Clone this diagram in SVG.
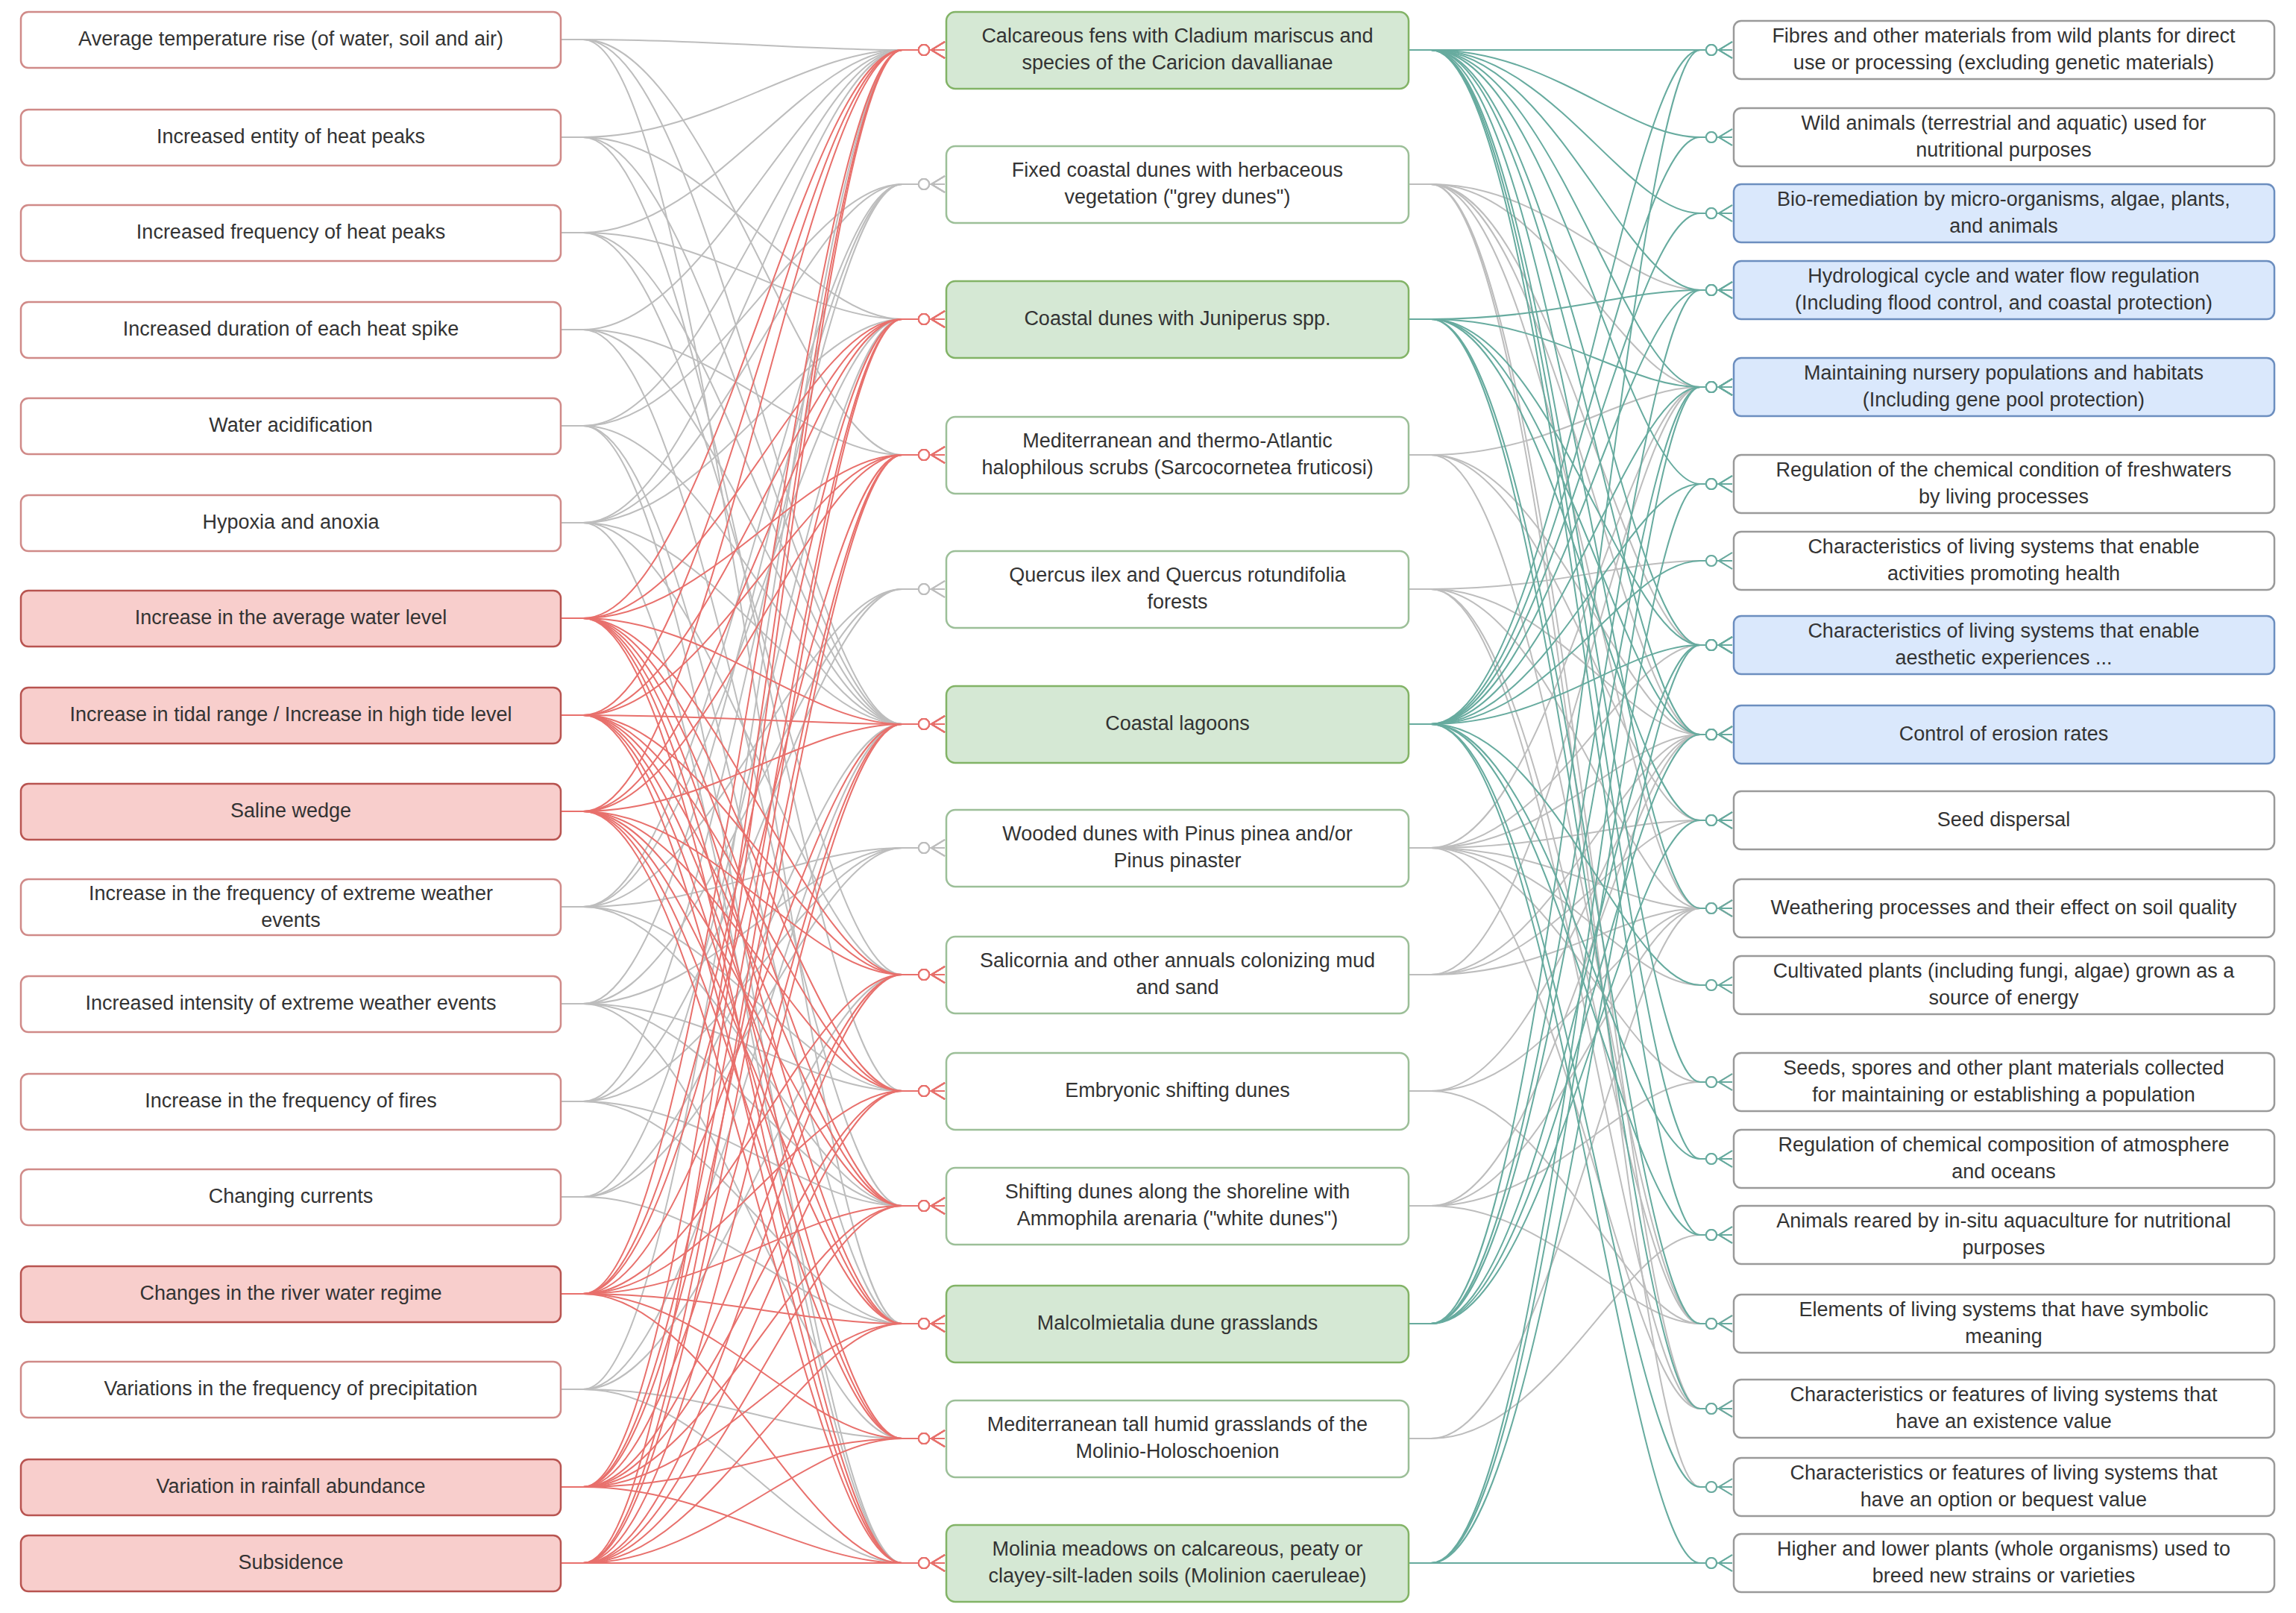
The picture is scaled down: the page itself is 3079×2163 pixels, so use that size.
<svg xmlns="http://www.w3.org/2000/svg" width="3079" height="2163" viewBox="0 0 3079 2163">
<style>
text{font-family:"Liberation Sans",Arial,sans-serif;font-size:27px;fill:#333;text-anchor:middle;dominant-baseline:middle}
.b{stroke-width:2.5}
.lw{fill:#fff;stroke:#d08a88}.lr{fill:#f8cecc;stroke:#b85450}
.mw{fill:#fff;stroke:#9cbf98}.mg{fill:#d5e8d4;stroke:#82b366}
.rw{fill:#fff;stroke:#9a9a9a}.rb{fill:#dae8fc;stroke:#6c8ebf}
path{fill:none;stroke-width:2}
.cr path{stroke:#e8706c;marker-end:url(#mr)}
.cg path{stroke:#bdbdbd;marker-end:url(#mg)}
.ct path{stroke:#67ab9f;marker-end:url(#mt)}
</style>
<defs>
<marker id="mr" markerUnits="userSpaceOnUse" markerWidth="44" markerHeight="26" refX="42" refY="13" orient="auto"><circle cx="14" cy="13" r="7" fill="#fff" stroke="#e8706c" stroke-width="2"/><path d="M42 2L24 13L42 24M24 13H42" stroke="#e8706c" stroke-width="2" fill="none"/></marker>
<marker id="mg" markerUnits="userSpaceOnUse" markerWidth="44" markerHeight="26" refX="42" refY="13" orient="auto"><circle cx="14" cy="13" r="7" fill="#fff" stroke="#bdbdbd" stroke-width="2"/><path d="M42 2L24 13L42 24M24 13H42" stroke="#bdbdbd" stroke-width="2" fill="none"/></marker>
<marker id="mt" markerUnits="userSpaceOnUse" markerWidth="44" markerHeight="26" refX="42" refY="13" orient="auto"><circle cx="14" cy="13" r="7" fill="#fff" stroke="#67ab9f" stroke-width="2"/><path d="M42 2L24 13L42 24M24 13H42" stroke="#67ab9f" stroke-width="2" fill="none"/></marker>
</defs>
<rect width="3079" height="2163" fill="#fff"/>
<g id="connectors">
<g class="cg">
<path d="M752 53h30C950 53 1080 67 1210 67H1267"/><path d="M752 53h30C950 53 1080 610 1210 610H1267"/><path d="M752 53h30C950 53 1080 971 1210 971H1267"/><path d="M752 53h30C950 53 1080 1775 1210 1775H1267"/>
<path d="M752 184h30C950 184 1080 67 1210 67H1267"/><path d="M752 184h30C950 184 1080 428 1210 428H1267"/><path d="M752 184h30C950 184 1080 971 1210 971H1267"/><path d="M752 184h30C950 184 1080 1463 1210 1463H1267"/>
<path d="M752 312h30C950 312 1080 67 1210 67H1267"/><path d="M752 312h30C950 312 1080 428 1210 428H1267"/><path d="M752 312h30C950 312 1080 971 1210 971H1267"/><path d="M752 312h30C950 312 1080 1307 1210 1307H1267"/>
<path d="M752 442h30C950 442 1080 67 1210 67H1267"/><path d="M752 442h30C950 442 1080 610 1210 610H1267"/><path d="M752 442h30C950 442 1080 971 1210 971H1267"/><path d="M752 442h30C950 442 1080 1617 1210 1617H1267"/>
<path d="M752 571h30C950 571 1080 67 1210 67H1267"/><path d="M752 571h30C950 571 1080 247 1210 247H1267"/><path d="M752 571h30C950 571 1080 971 1210 971H1267"/><path d="M752 571h30C950 571 1080 1775 1210 1775H1267"/><path d="M752 571h30C950 571 1080 2096 1210 2096H1267"/>
<path d="M752 701h30C950 701 1080 67 1210 67H1267"/><path d="M752 701h30C950 701 1080 247 1210 247H1267"/><path d="M752 701h30C950 701 1080 428 1210 428H1267"/><path d="M752 701h30C950 701 1080 971 1210 971H1267"/><path d="M752 701h30C950 701 1080 1307 1210 1307H1267"/><path d="M752 701h30C950 701 1080 2096 1210 2096H1267"/>
<path d="M752 1216h30C950 1216 1080 247 1210 247H1267"/><path d="M752 1216h30C950 1216 1080 428 1210 428H1267"/><path d="M752 1216h30C950 1216 1080 790 1210 790H1267"/><path d="M752 1216h30C950 1216 1080 1137 1210 1137H1267"/><path d="M752 1216h30C950 1216 1080 1463 1210 1463H1267"/><path d="M752 1216h30C950 1216 1080 1617 1210 1617H1267"/>
<path d="M752 1346h30C950 1346 1080 247 1210 247H1267"/><path d="M752 1346h30C950 1346 1080 790 1210 790H1267"/><path d="M752 1346h30C950 1346 1080 1137 1210 1137H1267"/><path d="M752 1346h30C950 1346 1080 1463 1210 1463H1267"/><path d="M752 1346h30C950 1346 1080 1617 1210 1617H1267"/><path d="M752 1346h30C950 1346 1080 1929 1210 1929H1267"/>
<path d="M752 1477h30C950 1477 1080 247 1210 247H1267"/><path d="M752 1477h30C950 1477 1080 790 1210 790H1267"/><path d="M752 1477h30C950 1477 1080 1137 1210 1137H1267"/><path d="M752 1477h30C950 1477 1080 1617 1210 1617H1267"/><path d="M752 1477h30C950 1477 1080 1775 1210 1775H1267"/>
<path d="M752 1605h30C950 1605 1080 428 1210 428H1267"/><path d="M752 1605h30C950 1605 1080 971 1210 971H1267"/><path d="M752 1605h30C950 1605 1080 1137 1210 1137H1267"/><path d="M752 1605h30C950 1605 1080 1775 1210 1775H1267"/>
<path d="M752 1863h30C950 1863 1080 67 1210 67H1267"/><path d="M752 1863h30C950 1863 1080 971 1210 971H1267"/><path d="M752 1863h30C950 1863 1080 1307 1210 1307H1267"/><path d="M752 1863h30C950 1863 1080 1929 1210 1929H1267"/><path d="M752 1863h30C950 1863 1080 2096 1210 2096H1267"/>
<path d="M1889 247h30C2080 247 2180 389 2280 389H2323"/><path d="M1889 247h30C2080 247 2180 519 2280 519H2323"/><path d="M1889 247h30C2080 247 2180 865 2280 865H2323"/><path d="M1889 247h30C2080 247 2180 985 2280 985H2323"/><path d="M1889 247h30C2080 247 2180 1218 2280 1218H2323"/><path d="M1889 247h30C2080 247 2180 1889 2280 1889H2323"/><path d="M1889 247h30C2080 247 2180 1994 2280 1994H2323"/>
<path d="M1889 610h30C2080 610 2180 519 2280 519H2323"/><path d="M1889 610h30C2080 610 2180 985 2280 985H2323"/><path d="M1889 610h30C2080 610 2180 1100 2280 1100H2323"/><path d="M1889 610h30C2080 610 2180 1775 2280 1775H2323"/>
<path d="M1889 790h30C2080 790 2180 752 2280 752H2323"/><path d="M1889 790h30C2080 790 2180 985 2280 985H2323"/><path d="M1889 790h30C2080 790 2180 1218 2280 1218H2323"/><path d="M1889 790h30C2080 790 2180 1775 2280 1775H2323"/><path d="M1889 790h30C2080 790 2180 1889 2280 1889H2323"/>
<path d="M1889 1137h30C2080 1137 2180 519 2280 519H2323"/><path d="M1889 1137h30C2080 1137 2180 865 2280 865H2323"/><path d="M1889 1137h30C2080 1137 2180 985 2280 985H2323"/><path d="M1889 1137h30C2080 1137 2180 1100 2280 1100H2323"/><path d="M1889 1137h30C2080 1137 2180 1218 2280 1218H2323"/><path d="M1889 1137h30C2080 1137 2180 1321 2280 1321H2323"/><path d="M1889 1137h30C2080 1137 2180 1451 2280 1451H2323"/><path d="M1889 1137h30C2080 1137 2180 1889 2280 1889H2323"/>
<path d="M1889 1307h30C2080 1307 2180 519 2280 519H2323"/><path d="M1889 1307h30C2080 1307 2180 985 2280 985H2323"/><path d="M1889 1307h30C2080 1307 2180 1100 2280 1100H2323"/><path d="M1889 1307h30C2080 1307 2180 1218 2280 1218H2323"/>
<path d="M1889 1463h30C2080 1463 2180 985 2280 985H2323"/><path d="M1889 1463h30C2080 1463 2180 1218 2280 1218H2323"/><path d="M1889 1463h30C2080 1463 2180 1775 2280 1775H2323"/>
<path d="M1889 1617h30C2080 1617 2180 985 2280 985H2323"/><path d="M1889 1617h30C2080 1617 2180 1218 2280 1218H2323"/><path d="M1889 1617h30C2080 1617 2180 1451 2280 1451H2323"/><path d="M1889 1617h30C2080 1617 2180 1775 2280 1775H2323"/>
<path d="M1889 1929h30C2080 1929 2180 1218 2280 1218H2323"/><path d="M1889 1929h30C2080 1929 2180 1656 2280 1656H2323"/>
</g>
<g class="cr">
<path d="M752 829h30C950 829 1080 67 1210 67H1267"/><path d="M752 829h30C950 829 1080 428 1210 428H1267"/><path d="M752 829h30C950 829 1080 610 1210 610H1267"/><path d="M752 829h30C950 829 1080 971 1210 971H1267"/><path d="M752 829h30C950 829 1080 1307 1210 1307H1267"/><path d="M752 829h30C950 829 1080 1463 1210 1463H1267"/><path d="M752 829h30C950 829 1080 1617 1210 1617H1267"/><path d="M752 829h30C950 829 1080 1775 1210 1775H1267"/><path d="M752 829h30C950 829 1080 1929 1210 1929H1267"/><path d="M752 829h30C950 829 1080 2096 1210 2096H1267"/>
<path d="M752 959h30C950 959 1080 67 1210 67H1267"/><path d="M752 959h30C950 959 1080 428 1210 428H1267"/><path d="M752 959h30C950 959 1080 610 1210 610H1267"/><path d="M752 959h30C950 959 1080 971 1210 971H1267"/><path d="M752 959h30C950 959 1080 1307 1210 1307H1267"/><path d="M752 959h30C950 959 1080 1463 1210 1463H1267"/><path d="M752 959h30C950 959 1080 1617 1210 1617H1267"/><path d="M752 959h30C950 959 1080 1775 1210 1775H1267"/><path d="M752 959h30C950 959 1080 1929 1210 1929H1267"/><path d="M752 959h30C950 959 1080 2096 1210 2096H1267"/>
<path d="M752 1088h30C950 1088 1080 67 1210 67H1267"/><path d="M752 1088h30C950 1088 1080 428 1210 428H1267"/><path d="M752 1088h30C950 1088 1080 610 1210 610H1267"/><path d="M752 1088h30C950 1088 1080 971 1210 971H1267"/><path d="M752 1088h30C950 1088 1080 1307 1210 1307H1267"/><path d="M752 1088h30C950 1088 1080 1463 1210 1463H1267"/><path d="M752 1088h30C950 1088 1080 1617 1210 1617H1267"/><path d="M752 1088h30C950 1088 1080 1775 1210 1775H1267"/><path d="M752 1088h30C950 1088 1080 1929 1210 1929H1267"/><path d="M752 1088h30C950 1088 1080 2096 1210 2096H1267"/>
<path d="M752 1735h30C950 1735 1080 67 1210 67H1267"/><path d="M752 1735h30C950 1735 1080 428 1210 428H1267"/><path d="M752 1735h30C950 1735 1080 610 1210 610H1267"/><path d="M752 1735h30C950 1735 1080 971 1210 971H1267"/><path d="M752 1735h30C950 1735 1080 1307 1210 1307H1267"/><path d="M752 1735h30C950 1735 1080 1463 1210 1463H1267"/><path d="M752 1735h30C950 1735 1080 1617 1210 1617H1267"/><path d="M752 1735h30C950 1735 1080 1775 1210 1775H1267"/><path d="M752 1735h30C950 1735 1080 1929 1210 1929H1267"/><path d="M752 1735h30C950 1735 1080 2096 1210 2096H1267"/>
<path d="M752 1994h30C950 1994 1080 67 1210 67H1267"/><path d="M752 1994h30C950 1994 1080 428 1210 428H1267"/><path d="M752 1994h30C950 1994 1080 610 1210 610H1267"/><path d="M752 1994h30C950 1994 1080 971 1210 971H1267"/><path d="M752 1994h30C950 1994 1080 1307 1210 1307H1267"/><path d="M752 1994h30C950 1994 1080 1463 1210 1463H1267"/><path d="M752 1994h30C950 1994 1080 1617 1210 1617H1267"/><path d="M752 1994h30C950 1994 1080 1775 1210 1775H1267"/><path d="M752 1994h30C950 1994 1080 1929 1210 1929H1267"/><path d="M752 1994h30C950 1994 1080 2096 1210 2096H1267"/>
<path d="M752 2096h30C950 2096 1080 67 1210 67H1267"/><path d="M752 2096h30C950 2096 1080 428 1210 428H1267"/><path d="M752 2096h30C950 2096 1080 610 1210 610H1267"/><path d="M752 2096h30C950 2096 1080 971 1210 971H1267"/><path d="M752 2096h30C950 2096 1080 1307 1210 1307H1267"/><path d="M752 2096h30C950 2096 1080 1463 1210 1463H1267"/><path d="M752 2096h30C950 2096 1080 1617 1210 1617H1267"/><path d="M752 2096h30C950 2096 1080 1775 1210 1775H1267"/><path d="M752 2096h30C950 2096 1080 1929 1210 1929H1267"/><path d="M752 2096h30C950 2096 1080 2096 1210 2096H1267"/>
</g>
<g class="ct">
<path d="M1889 67h30C2080 67 2180 67 2280 67H2323"/><path d="M1889 67h30C2080 67 2180 184 2280 184H2323"/><path d="M1889 67h30C2080 67 2180 286 2280 286H2323"/><path d="M1889 67h30C2080 67 2180 389 2280 389H2323"/><path d="M1889 67h30C2080 67 2180 519 2280 519H2323"/><path d="M1889 67h30C2080 67 2180 649 2280 649H2323"/><path d="M1889 67h30C2080 67 2180 865 2280 865H2323"/><path d="M1889 67h30C2080 67 2180 985 2280 985H2323"/><path d="M1889 67h30C2080 67 2180 1218 2280 1218H2323"/><path d="M1889 67h30C2080 67 2180 1451 2280 1451H2323"/><path d="M1889 67h30C2080 67 2180 1554 2280 1554H2323"/><path d="M1889 67h30C2080 67 2180 1656 2280 1656H2323"/>
<path d="M1889 428h30C2080 428 2180 389 2280 389H2323"/><path d="M1889 428h30C2080 428 2180 519 2280 519H2323"/><path d="M1889 428h30C2080 428 2180 865 2280 865H2323"/><path d="M1889 428h30C2080 428 2180 985 2280 985H2323"/><path d="M1889 428h30C2080 428 2180 1100 2280 1100H2323"/><path d="M1889 428h30C2080 428 2180 1775 2280 1775H2323"/><path d="M1889 428h30C2080 428 2180 1889 2280 1889H2323"/>
<path d="M1889 971h30C2080 971 2180 67 2280 67H2323"/><path d="M1889 971h30C2080 971 2180 184 2280 184H2323"/><path d="M1889 971h30C2080 971 2180 286 2280 286H2323"/><path d="M1889 971h30C2080 971 2180 389 2280 389H2323"/><path d="M1889 971h30C2080 971 2180 519 2280 519H2323"/><path d="M1889 971h30C2080 971 2180 649 2280 649H2323"/><path d="M1889 971h30C2080 971 2180 752 2280 752H2323"/><path d="M1889 971h30C2080 971 2180 865 2280 865H2323"/><path d="M1889 971h30C2080 971 2180 1321 2280 1321H2323"/><path d="M1889 971h30C2080 971 2180 1554 2280 1554H2323"/><path d="M1889 971h30C2080 971 2180 1656 2280 1656H2323"/><path d="M1889 971h30C2080 971 2180 1994 2280 1994H2323"/><path d="M1889 971h30C2080 971 2180 2096 2280 2096H2323"/>
<path d="M1889 1775h30C2080 1775 2180 67 2280 67H2323"/><path d="M1889 1775h30C2080 1775 2180 389 2280 389H2323"/><path d="M1889 1775h30C2080 1775 2180 519 2280 519H2323"/><path d="M1889 1775h30C2080 1775 2180 865 2280 865H2323"/><path d="M1889 1775h30C2080 1775 2180 985 2280 985H2323"/><path d="M1889 1775h30C2080 1775 2180 1100 2280 1100H2323"/>
<path d="M1889 2096h30C2080 2096 2180 519 2280 519H2323"/><path d="M1889 2096h30C2080 2096 2180 649 2280 649H2323"/><path d="M1889 2096h30C2080 2096 2180 865 2280 865H2323"/><path d="M1889 2096h30C2080 2096 2180 2096 2280 2096H2323"/>
</g>
</g>
<g id="left">
<g id="l0"><rect class="b lw" x="28" y="16" width="724" height="75" rx="10"/><text x="390" y="54">Average temperature rise (of water, soil and air)</text></g>
<g id="l1"><rect class="b lw" x="28" y="147" width="724" height="75" rx="10"/><text x="390" y="185">Increased entity of heat peaks</text></g>
<g id="l2"><rect class="b lw" x="28" y="275" width="724" height="75" rx="10"/><text x="390" y="313">Increased frequency of heat peaks</text></g>
<g id="l3"><rect class="b lw" x="28" y="405" width="724" height="75" rx="10"/><text x="390" y="443">Increased duration of each heat spike</text></g>
<g id="l4"><rect class="b lw" x="28" y="534" width="724" height="75" rx="10"/><text x="390" y="572">Water acidification</text></g>
<g id="l5"><rect class="b lw" x="28" y="664" width="724" height="75" rx="10"/><text x="390" y="702">Hypoxia and anoxia</text></g>
<g id="l6"><rect class="b lr" x="28" y="792" width="724" height="75" rx="10"/><text x="390" y="830">Increase in the average water level</text></g>
<g id="l7"><rect class="b lr" x="28" y="922" width="724" height="75" rx="10"/><text x="390" y="960">Increase in tidal range / Increase in high tide level</text></g>
<g id="l8"><rect class="b lr" x="28" y="1051" width="724" height="75" rx="10"/><text x="390" y="1089">Saline wedge</text></g>
<g id="l9"><rect class="b lw" x="28" y="1179" width="724" height="75" rx="10"/><text x="390" y="1200">Increase in the frequency of extreme weather</text><text x="390" y="1236">events</text></g>
<g id="l10"><rect class="b lw" x="28" y="1309" width="724" height="75" rx="10"/><text x="390" y="1347">Increased intensity of extreme weather events</text></g>
<g id="l11"><rect class="b lw" x="28" y="1440" width="724" height="75" rx="10"/><text x="390" y="1478">Increase in the frequency of fires</text></g>
<g id="l12"><rect class="b lw" x="28" y="1568" width="724" height="75" rx="10"/><text x="390" y="1606">Changing currents</text></g>
<g id="l13"><rect class="b lr" x="28" y="1698" width="724" height="75" rx="10"/><text x="390" y="1736">Changes in the river water regime</text></g>
<g id="l14"><rect class="b lw" x="28" y="1826" width="724" height="75" rx="10"/><text x="390" y="1864">Variations in the frequency of precipitation</text></g>
<g id="l15"><rect class="b lr" x="28" y="1957" width="724" height="75" rx="10"/><text x="390" y="1995">Variation in rainfall abundance</text></g>
<g id="l16"><rect class="b lr" x="28" y="2059" width="724" height="75" rx="10"/><text x="390" y="2097">Subsidence</text></g>
</g>
<g id="middle">
<g id="m0"><rect class="b mg" x="1269" y="16" width="620" height="103" rx="12"/><text x="1579" y="50">Calcareous fens with Cladium mariscus and</text><text x="1579" y="86">species of the Caricion davallianae</text></g>
<g id="m1"><rect class="b mw" x="1269" y="196" width="620" height="103" rx="12"/><text x="1579" y="230">Fixed coastal dunes with herbaceous</text><text x="1579" y="266">vegetation ("grey dunes")</text></g>
<g id="m2"><rect class="b mg" x="1269" y="377" width="620" height="103" rx="12"/><text x="1579" y="429">Coastal dunes with Juniperus spp.</text></g>
<g id="m3"><rect class="b mw" x="1269" y="559" width="620" height="103" rx="12"/><text x="1579" y="593">Mediterranean and thermo-Atlantic</text><text x="1579" y="629">halophilous scrubs (Sarcocornetea fruticosi)</text></g>
<g id="m4"><rect class="b mw" x="1269" y="739" width="620" height="103" rx="12"/><text x="1579" y="773">Quercus ilex and Quercus rotundifolia</text><text x="1579" y="809">forests</text></g>
<g id="m5"><rect class="b mg" x="1269" y="920" width="620" height="103" rx="12"/><text x="1579" y="972">Coastal lagoons</text></g>
<g id="m6"><rect class="b mw" x="1269" y="1086" width="620" height="103" rx="12"/><text x="1579" y="1120">Wooded dunes with Pinus pinea and/or</text><text x="1579" y="1156">Pinus pinaster</text></g>
<g id="m7"><rect class="b mw" x="1269" y="1256" width="620" height="103" rx="12"/><text x="1579" y="1290">Salicornia and other annuals colonizing mud</text><text x="1579" y="1326">and sand</text></g>
<g id="m8"><rect class="b mw" x="1269" y="1412" width="620" height="103" rx="12"/><text x="1579" y="1464">Embryonic shifting dunes</text></g>
<g id="m9"><rect class="b mw" x="1269" y="1566" width="620" height="103" rx="12"/><text x="1579" y="1600">Shifting dunes along the shoreline with</text><text x="1579" y="1636">Ammophila arenaria ("white dunes")</text></g>
<g id="m10"><rect class="b mg" x="1269" y="1724" width="620" height="103" rx="12"/><text x="1579" y="1776">Malcolmietalia dune grasslands</text></g>
<g id="m11"><rect class="b mw" x="1269" y="1878" width="620" height="103" rx="12"/><text x="1579" y="1912">Mediterranean tall humid grasslands of the</text><text x="1579" y="1948">Molinio-Holoschoenion</text></g>
<g id="m12"><rect class="b mg" x="1269" y="2045" width="620" height="103" rx="12"/><text x="1579" y="2079">Molinia meadows on calcareous, peaty or</text><text x="1579" y="2115">clayey-silt-laden soils (Molinion caeruleae)</text></g>
</g>
<g id="right">
<g id="r0"><rect class="b rw" x="2325" y="28" width="725" height="78" rx="10"/><text x="2687" y="50">Fibres and other materials from wild plants for direct</text><text x="2687" y="86">use or processing  (excluding genetic materials)</text></g>
<g id="r1"><rect class="b rw" x="2325" y="145" width="725" height="78" rx="10"/><text x="2687" y="167">Wild animals (terrestrial and aquatic) used for</text><text x="2687" y="203">nutritional purposes</text></g>
<g id="r2"><rect class="b rb" x="2325" y="247" width="725" height="78" rx="10"/><text x="2687" y="269">Bio-remediation by micro-organisms, algae, plants,</text><text x="2687" y="305">and animals</text></g>
<g id="r3"><rect class="b rb" x="2325" y="350" width="725" height="78" rx="10"/><text x="2687" y="372">Hydrological cycle and water flow regulation</text><text x="2687" y="408">(Including flood control, and coastal protection)</text></g>
<g id="r4"><rect class="b rb" x="2325" y="480" width="725" height="78" rx="10"/><text x="2687" y="502">Maintaining nursery populations and habitats</text><text x="2687" y="538">(Including gene pool protection)</text></g>
<g id="r5"><rect class="b rw" x="2325" y="610" width="725" height="78" rx="10"/><text x="2687" y="632">Regulation of the chemical condition of freshwaters</text><text x="2687" y="668">by living processes</text></g>
<g id="r6"><rect class="b rw" x="2325" y="713" width="725" height="78" rx="10"/><text x="2687" y="735">Characteristics of living systems that enable</text><text x="2687" y="771">activities promoting health</text></g>
<g id="r7"><rect class="b rb" x="2325" y="826" width="725" height="78" rx="10"/><text x="2687" y="848">Characteristics of living systems that enable</text><text x="2687" y="884">aesthetic experiences ...</text></g>
<g id="r8"><rect class="b rb" x="2325" y="946" width="725" height="78" rx="10"/><text x="2687" y="986">Control of erosion rates</text></g>
<g id="r9"><rect class="b rw" x="2325" y="1061" width="725" height="78" rx="10"/><text x="2687" y="1101">Seed dispersal</text></g>
<g id="r10"><rect class="b rw" x="2325" y="1179" width="725" height="78" rx="10"/><text x="2687" y="1219">Weathering processes and their effect on soil quality</text></g>
<g id="r11"><rect class="b rw" x="2325" y="1282" width="725" height="78" rx="10"/><text x="2687" y="1304">Cultivated plants (including fungi, algae) grown as a</text><text x="2687" y="1340">source of  energy</text></g>
<g id="r12"><rect class="b rw" x="2325" y="1412" width="725" height="78" rx="10"/><text x="2687" y="1434">Seeds, spores and other plant materials collected</text><text x="2687" y="1470">for maintaining or establishing a population</text></g>
<g id="r13"><rect class="b rw" x="2325" y="1515" width="725" height="78" rx="10"/><text x="2687" y="1537">Regulation of chemical composition of atmosphere</text><text x="2687" y="1573">and oceans</text></g>
<g id="r14"><rect class="b rw" x="2325" y="1617" width="725" height="78" rx="10"/><text x="2687" y="1639">Animals reared by in-situ aquaculture for nutritional</text><text x="2687" y="1675">purposes</text></g>
<g id="r15"><rect class="b rw" x="2325" y="1736" width="725" height="78" rx="10"/><text x="2687" y="1758">Elements of living systems that have symbolic</text><text x="2687" y="1794">meaning</text></g>
<g id="r16"><rect class="b rw" x="2325" y="1850" width="725" height="78" rx="10"/><text x="2687" y="1872">Characteristics or features of living systems that</text><text x="2687" y="1908">have an existence value</text></g>
<g id="r17"><rect class="b rw" x="2325" y="1955" width="725" height="78" rx="10"/><text x="2687" y="1977">Characteristics or features of living systems that</text><text x="2687" y="2013">have an option or bequest value</text></g>
<g id="r18"><rect class="b rw" x="2325" y="2057" width="725" height="78" rx="10"/><text x="2687" y="2079">Higher and lower plants (whole organisms) used to</text><text x="2687" y="2115">breed new strains or varieties</text></g>
</g>
</svg>
